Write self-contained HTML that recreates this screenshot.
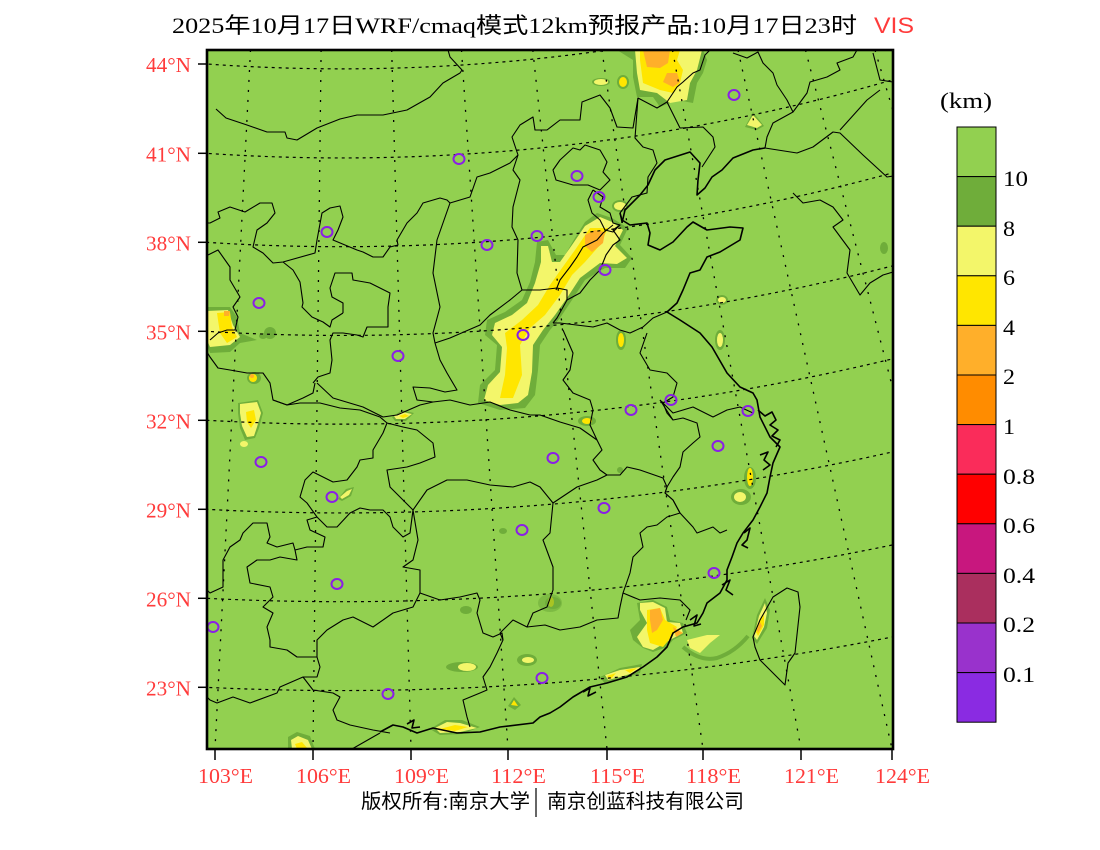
<!DOCTYPE html>
<html><head><meta charset="utf-8"><style>html,body{margin:0;padding:0;background:#fff}svg{display:block}</style></head>
<body>
<svg width="1100" height="850" viewBox="0 0 1100 850" xmlns="http://www.w3.org/2000/svg">
<defs><clipPath id="m"><rect x="207" y="50" width="686" height="699"/></clipPath></defs>
<rect width="1100" height="850" fill="#fff"/>
<g clip-path="url(#m)">
<rect x="207" y="50" width="686" height="699" fill="#92D050"/>
<!-- blobs -->
<g>
<polygon fill="#6FAD3A" points="597,213 612,218 628,228 620,245 632,258 625,268 605,268 585,280 572,300 560,318 550,330 540,345 538,370 535,395 525,408 500,410 478,403 480,385 495,370 497,345 485,335 487,320 505,312 522,300 530,282 535,262 537,242 548,240 556,255 565,255 575,238 585,222"/>
<polygon fill="#F3F66A" points="600,217 612,222 623,230 615,246 627,258 617,264 600,263 580,278 567,298 555,315 543,330 533,345 532,372 528,395 518,403 500,405 484,400 488,385 500,372 502,347 492,335 495,323 512,315 527,303 535,283 541,262 541,246 548,246 552,262 560,262 572,245 585,226"/>
<polygon fill="#FFE600" points="590,228 608,228 600,245 585,262 572,275 560,295 545,315 530,328 520,345 522,375 513,398 500,398 505,375 507,348 505,333 522,320 538,305 550,285 562,268 575,250"/>
<polygon fill="#F3F66A" points="543,250 549,250 552,268 545,275"/>
<polygon fill="#FFAF2A" points="585,235 595,230 605,232 603,243 592,252 585,246"/>

<polygon fill="#6FAD3A" points="617,50 633,60 633,77 637,97 653,97 660,107 677,100 693,103 697,83 703,73 707,60 703,50"/>
<polygon fill="#F3F66A" points="635,50 637,73 640,90 657,93 670,103 687,100 690,83 697,70 702,50"/>
<polygon fill="#FFE600" points="640,50 640,60 643,83 660,90 673,93 680,83 683,70 677,60 680,50"/>
<polygon fill="#FFAF2A" points="643,50 670,50 668,63 660,68 647,67"/>
<polygon fill="#FFAF2A" points="667,73 677,73 680,82 673,87 663,82"/>
<ellipse cx="623" cy="82" rx="6" ry="7" fill="#6FAD3A"/><ellipse cx="623" cy="82" rx="4" ry="5" fill="#FFE600"/>
<ellipse cx="601" cy="82" rx="9" ry="4" fill="#6FAD3A"/><ellipse cx="601" cy="82" rx="7" ry="3" fill="#F3F66A"/>

<polygon fill="#6FAD3A" points="637,603 653,600 667,607 670,620 683,623 687,633 673,640 667,647 653,652 643,648 633,640 630,630 640,620"/>
<polygon fill="#F3F66A" points="640,603 653,602 665,608 667,622 680,623 683,633 670,640 653,650 643,647 637,637 647,623 640,610"/>
<polygon fill="#FFE600" points="647,610 660,608 665,620 677,627 673,635 663,647 650,643 647,630"/>
<polygon fill="#FFAF2A" points="650,610 660,608 663,620 657,630 652,633 650,620"/>
<polygon fill="#FFAF2A" points="673,627 683,633 676,637"/>
<path d="M683,647 Q700,662 717,658 Q735,652 748,636" stroke="#6FAD3A" stroke-width="4" fill="none"/>
<polygon fill="#F3F66A" points="687,640 707,635 720,635 710,643 700,653 690,648"/>
<polygon fill="#6FAD3A" points="752,638 757,615 765,598 770,610 767,628 757,644"/>
<polygon fill="#F3F66A" points="754,636 759,616 765,603 767,613 764,627 757,640"/>
<polygon fill="#FFE600" points="756,632 760,620 764,615 764,625 758,636"/>
<polygon fill="#FFAF2A" points="757,630 760,622 762,626 758,633"/>
<polygon fill="#6FAD3A" points="600,677 620,668 642,664 640,673 620,680 605,684"/>
<polygon fill="#F3F66A" points="605,675 620,670 640,667 637,672 620,677 608,680"/>
<polygon fill="#FFE600" points="607,676 616,673 611,679"/>
<polygon fill="#FFE600" points="625,670 637,668 630,673"/>

<polygon fill="#6FAD3A" points="207,307 230,307 237,317 240,333 257,340 240,343 230,352 210,353 207,345"/>
<polygon fill="#F3F66A" points="207,311 228,310 233,325 240,337 230,345 210,347 207,340"/>
<polygon fill="#FFE600" points="217,313 230,312 232,327 237,337 227,343 220,333 218,320"/>
<polygon fill="#FFAF2A" points="224,311 230,311 229,316 224,316"/>
<polygon fill="#6FAD3A" points="238,403 258,400 263,413 259,428 255,438 245,440 240,428 238,413"/>
<polygon fill="#F3F66A" points="240,404 257,402 261,413 257,427 254,436 247,437 242,426 240,413"/>
<polygon fill="#FFE600" points="246,412 254,410 256,420 251,428 247,422"/>
<ellipse cx="244" cy="444" rx="4" ry="3" fill="#F3F66A"/>
<ellipse cx="254" cy="378" rx="7" ry="6" fill="#6FAD3A"/><ellipse cx="253" cy="378" rx="4" ry="4" fill="#FFE600"/><ellipse cx="252" cy="376" rx="2" ry="2" fill="#FFAF2A"/>
<polygon fill="#6FAD3A" points="338,499 346,489 354,487 351,496 342,501"/>
<polygon fill="#F3F66A" points="340,497 347,491 352,489 349,495 342,499"/>
<polygon fill="#6FAD3A" points="392,417 402,410 414,413 406,421 395,421"/>
<polygon fill="#F3F66A" points="394,416 402,412 412,414 405,419 396,419"/>
<polygon fill="#FFE600" points="399,416 405,414 409,416 403,418"/>
<polygon fill="#6FAD3A" points="288,737 297,732 310,736 315,749 288,749"/>
<polygon fill="#F3F66A" points="291,740 298,736 308,740 312,749 292,749"/>
<polygon fill="#FFE600" points="295,744 302,742 308,749 297,749"/>
<polygon fill="#6FAD3A" points="430,729 445,720 462,720 480,727 462,734 440,735"/>
<polygon fill="#F3F66A" points="435,728 447,722 460,723 477,728 460,732 440,733"/>
<polygon fill="#FFE600" points="440,729 455,725 468,727 455,731"/>
<polygon fill="#6FAD3A" points="508,706 514,697 521,705 515,710"/>
<polygon fill="#FFE600" points="511,705 514,700 518,706"/>
<ellipse cx="462" cy="667" rx="16" ry="5" fill="#6FAD3A"/><ellipse cx="467" cy="667" rx="9" ry="4" fill="#F3F66A"/>
<ellipse cx="527" cy="660" rx="10" ry="6" fill="#6FAD3A"/><ellipse cx="528" cy="660" rx="6" ry="3" fill="#F3F66A"/>
<ellipse cx="553" cy="603" rx="8" ry="6" fill="#6FAD3A"/><ellipse cx="551" cy="602" rx="3" ry="5" fill="#FFE600"/>
<ellipse cx="741" cy="497" rx="10" ry="8" fill="#6FAD3A"/><ellipse cx="740" cy="497" rx="6" ry="5" fill="#F3F66A"/>
<ellipse cx="750" cy="478" rx="6" ry="11" fill="#6FAD3A"/><ellipse cx="750" cy="477" rx="3" ry="9" fill="#FFE600"/>
<ellipse cx="587" cy="421" rx="9" ry="5" fill="#6FAD3A"/><ellipse cx="587" cy="421" rx="5" ry="3" fill="#FFE600"/>
<ellipse cx="621" cy="340" rx="5" ry="10" fill="#6FAD3A"/><ellipse cx="621" cy="340" rx="3" ry="7" fill="#FFE600"/>
<ellipse cx="720" cy="340" rx="5" ry="10" fill="#6FAD3A"/><ellipse cx="720" cy="340" rx="3" ry="7" fill="#F3F66A"/>
<ellipse cx="722" cy="300" rx="6" ry="5" fill="#6FAD3A"/><ellipse cx="722" cy="300" rx="4" ry="3" fill="#F3F66A"/>
<polygon fill="#6FAD3A" points="745,127 753,112 764,126 757,130"/>
<polygon fill="#F3F66A" points="747,125 753,115 762,125 757,128"/>
<ellipse cx="620" cy="206" rx="8" ry="6" fill="#6FAD3A"/><ellipse cx="620" cy="206" rx="6" ry="4" fill="#F3F66A"/>
<ellipse cx="884" cy="248" rx="4" ry="6" fill="#6FAD3A"/>
<ellipse cx="503" cy="531" rx="4" ry="3" fill="#6FAD3A"/>
<ellipse cx="466" cy="610" rx="6" ry="4" fill="#6FAD3A"/>
<ellipse cx="270" cy="333" rx="6" ry="6" fill="#6FAD3A"/>
<ellipse cx="550" cy="603" rx="12" ry="9" fill="#6FAD3A" opacity="0.6"/>
<ellipse cx="263" cy="336" rx="4" ry="3" fill="#6FAD3A"/>
<ellipse cx="620" cy="470" rx="3" ry="3" fill="#6FAD3A"/>
</g>
<!-- graticule -->
<g fill="none" stroke="#000" stroke-width="1.2" stroke-dasharray="3 4">
<circle cx="342" cy="-1813.45" r="1882.3"/>
<circle cx="342" cy="-1822.45" r="1980.4"/>
<circle cx="342" cy="-1843.4" r="2090.1"/>
<circle cx="342" cy="-1878.05" r="2213.5"/>
<circle cx="342" cy="-1929.05" r="2353.2"/>
<circle cx="342" cy="-1999.95" r="2512.9"/>
<circle cx="342" cy="-2095.1" r="2696.8"/>
<circle cx="342" cy="-2163.65" r="2854.2"/>
</g>
<g fill="none" stroke="#000" stroke-width="1.3" stroke-dasharray="2 8">
<line x1="250.5" y1="50" x2="215" y2="749"/>
<line x1="321.1" y1="50" x2="313" y2="749"/>
<line x1="391.7" y1="50" x2="411" y2="749"/>
<line x1="461.5" y1="50" x2="508" y2="749"/>
<line x1="532.8" y1="50" x2="607" y2="749"/>
<line x1="601.9" y1="50" x2="703" y2="749"/>
<line x1="672.5" y1="50" x2="801" y2="749"/>
<line x1="738" y1="50" x2="892" y2="749"/>
<line x1="805.5" y1="50" x2="985.7" y2="749"/>
<line x1="875" y1="50" x2="1082" y2="749"/>
</g>
<!-- borders -->
<g fill="none" stroke="#000" stroke-width="1.1" stroke-linejoin="round">
<polyline points="216,109 226,118 247,125 267,132 285,132 287,138 297,140 317,128 340,119 357,115 383,115 407,110 430,97 443,83 460,73 462,70 450,57 448,50"/>
<polyline points="207,223 210,223 220,218 218,212 230,207 245,212 260,203 272,203 275,213 267,223 257,230 253,247 263,253 273,263 283,262 315,253 317,240 322,213 330,208 340,206 343,217 338,230 333,240 357,250 363,252 373,257 383,257 390,247 398,245 397,240 407,223 417,213 423,203 440,198 447,200 450,203 470,197 477,177 490,173 510,163 518,155 512,137 520,125 533,117 535,130 547,130 560,120 580,120 582,102 600,95 610,108 617,127 633,128 638,98 657,108 667,102 677,87 683,82 693,73 700,70 705,55 710,50"/>
<polyline points="560,160 573,148 580,150 585,145 600,150 607,162 603,172 610,180 600,190 588,185 573,185 556,180 553,170 560,160"/>
<polyline points="593,190 603,197 600,207 610,213 613,223 620,225 613,232 605,230 600,220 592,213 588,200 593,190"/>
<polyline points="518,155 513,170 520,180 513,207 512,227 518,240 517,273 522,290"/>
<polyline points="522,290 510,300 490,315 480,325 450,338 435,343"/>
<polyline points="450,203 437,240 433,273 440,307 433,333 435,343 440,360 447,373 457,390 445,392 430,388 413,387 417,400 433,402"/>
<polyline points="433,402 420,405 397,415 383,417 363,407 333,398 317,383"/>
<polyline points="343,313 343,303 332,297 330,288 335,273 352,273 353,280 370,283 390,293 388,307 388,327 367,327 363,337 357,335 343,333 333,333 330,340 332,360 330,373 318,377 313,383"/>
<polyline points="283,262 293,270 300,282 303,303 302,307 312,317 323,322 330,327 332,320 343,313"/>
<polyline points="208,255 218,250 230,267 230,280 240,297 233,307 238,317 235,330 227,330 218,333 210,340"/>
<polyline points="207,352 210,357 218,368 230,370 247,373 263,373 270,383 273,400 287,405 303,398 313,393 315,383"/>
<polyline points="273,400 287,405 300,403 320,403 340,408 360,410 380,417 387,423 383,433 373,450 373,458 360,460 357,467 347,480 333,482 313,472 305,480 300,497 307,503 317,517 327,527 337,527 350,513 360,508 370,510 383,510 390,517 393,527 403,537 410,533 413,510"/>
<polyline points="387,423 403,427 417,430 433,443 435,457 420,463 407,467 387,470 390,487 400,497 410,507 413,510"/>
<polyline points="413,510 427,490 447,480 467,480 490,485 513,487 530,482 540,487 553,503"/>
<polyline points="433,402 450,400 470,405 490,402 510,410 530,415 540,415 560,422 580,428 597,440 602,450 593,460 600,470 607,475 620,475 627,467 640,470 663,478 667,487 665,493 673,500 680,513"/>
<polyline points="553,503 577,487 597,480 607,475"/>
<polyline points="553,503 550,533 543,540 553,567 553,590 547,607 533,613 527,627 513,620 500,633"/>
<polyline points="527,627 545,625 560,630 580,627 597,620 618,618 620,607 623,593 630,573 633,557 643,547 640,533 647,527 657,525 667,517 680,513"/>
<polyline points="623,593 640,600 660,598 680,600 690,610 686,620"/>
<polyline points="680,513 693,527 697,533 713,527 720,533 727,530"/>
<polyline points="680,513 673,500 665,493 667,487 673,477 680,467 683,452 693,443 700,437 697,423 683,418 673,420 660,400"/>
<polyline points="660,400 673,413 693,407 713,417 727,410 740,407 753,413"/>
<polyline points="647,333 640,353 650,370 667,373 677,383 673,397 663,403 667,413 673,420"/>
<polyline points="563,330 573,353 570,370 563,380 573,393 590,400 593,410 590,425 597,440"/>
<polyline points="553,323 560,323 593,327 607,323 620,330 630,333 643,327 653,318 667,312"/>
<polyline points="522,290 540,290 557,288 567,290 567,300 557,318 553,323"/>
<polyline points="567,300 580,293 590,280 600,270 606,255 613,245 620,240 613,230 620,225"/>
<polyline points="556,290 560,280 570,267 577,257 583,247 597,240 603,233 613,225"/>
<polyline points="638,98 635,138 643,147 653,150 657,163 648,177 647,193 632,197 620,213 622,223"/>
<polyline points="667,102 680,128 703,127 713,137 715,147 702,167"/>
<polyline points="733,53 747,58 758,52 763,63 773,73 777,85 787,100 793,112 773,123 767,137 765,148"/>
<polyline points="793,112 807,93 810,82 827,77 840,70 837,63 853,57 857,50"/>
<polyline points="765,148 797,153 813,147 833,132 840,133 863,155 887,177 893,176"/>
<polyline points="873,53 880,80 893,82"/>
<polyline points="880,90 867,100 840,130"/>
<polyline points="793,193 803,203 820,200 833,207 843,220 833,227 850,250 847,273 860,295 870,283 883,275 893,272"/>
<polyline points="303,677 313,690 333,693 340,697 333,710 337,720 350,725 373,730 390,733"/>
<polyline points="207,697 210,700 217,703 233,697 250,703 277,693 280,687 303,677 317,677 320,667 317,657 297,657 287,650 270,647 270,640 267,627 273,613 263,607 273,597 270,587 250,583 247,567 257,560 270,560 280,557 297,560 295,550 307,547 323,547 325,537 310,530 307,520 317,517"/>
<polyline points="317,657 317,640 327,630 343,620 353,617 373,627 393,613 413,607 420,593 420,570 403,567 413,560 418,540 413,510"/>
<polyline points="207,590 210,593 223,587 223,560 230,547 240,540 243,533 253,523 267,523 270,537 267,543 277,547 293,543 295,550"/>
<polyline points="420,593 440,600 460,597 477,593 480,600 477,613 483,633 493,637 502,633 503,640 497,653 490,667 483,677 487,690 480,693 463,700 467,717 470,727"/>
<polyline points="500,633 503,640"/>
<polyline points="352,749 380,733"/>
<polygon points="753,637 760,620 773,597 787,588 798,592 800,607 795,653 788,663 785,685 773,673 760,660 755,647"/>
</g>
<g fill="none" stroke="#000" stroke-width="1.6" stroke-linejoin="round">
<polyline points="620,213 622,220 630,225 647,223 650,233 648,245 660,250 673,242 687,227 693,222 707,230 730,227 743,228 740,240 720,252 707,257 700,270 690,273 683,290 677,303 667,312 680,320 700,333 712,347 727,373 740,387 753,393 757,400 760,417 770,437 780,447 773,463 770,477 767,493 760,507 753,520 743,533 737,543 732,557 727,570 727,580 720,593 707,603 703,613 697,623 683,627 673,633 667,647 657,657 643,667 627,677 607,683 590,687 573,697 560,707 550,713 540,717 533,723 500,727 480,732 457,733 433,728 417,733 403,727 393,725 380,732"/>
<polyline points="622,223 625,210 640,195 648,185 655,170 665,160 690,152 700,163 698,180 697,195 705,188 712,177 722,170 733,158 753,150 765,148"/>
<polyline points="758,410 765,416 772,412 776,420 770,425 778,430 772,436 780,440 776,447"/>
<polyline points="760,455 768,452 764,460 770,465 763,470"/>
<polyline points="744,533 750,528 747,540 742,545 748,548"/>
<polyline points="722,585 730,580 726,590 733,595"/>
<polyline points="690,620 697,615 694,626 701,624"/>
<polyline points="583,692 590,688 588,696 596,692"/>
<polyline points="407,724 414,720 412,728 420,727"/>
</g>
<!-- stations -->
<g fill="none" stroke="#8A1FE6" stroke-width="2">
<ellipse cx="734" cy="95" rx="5.5" ry="5"/>
<ellipse cx="459" cy="159" rx="5.5" ry="5"/>
<ellipse cx="577" cy="176" rx="5.5" ry="5"/>
<ellipse cx="599" cy="197" rx="5.5" ry="5"/>
<ellipse cx="327" cy="232" rx="5.5" ry="5"/>
<ellipse cx="487" cy="245" rx="5.5" ry="5"/>
<ellipse cx="537" cy="236" rx="5.5" ry="5"/>
<ellipse cx="605" cy="270" rx="5.5" ry="5"/>
<ellipse cx="259" cy="303" rx="5.5" ry="5"/>
<ellipse cx="523" cy="335" rx="5.5" ry="5"/>
<ellipse cx="398" cy="356" rx="5.5" ry="5"/>
<ellipse cx="671" cy="400" rx="5.5" ry="5"/>
<ellipse cx="631" cy="410" rx="5.5" ry="5"/>
<ellipse cx="748" cy="411" rx="5.5" ry="5"/>
<ellipse cx="718" cy="446" rx="5.5" ry="5"/>
<ellipse cx="553" cy="458" rx="5.5" ry="5"/>
<ellipse cx="261" cy="462" rx="5.5" ry="5"/>
<ellipse cx="332" cy="497" rx="5.5" ry="5"/>
<ellipse cx="604" cy="508" rx="5.5" ry="5"/>
<ellipse cx="522" cy="530" rx="5.5" ry="5"/>
<ellipse cx="714" cy="573" rx="5.5" ry="5"/>
<ellipse cx="337" cy="584" rx="5.5" ry="5"/>
<ellipse cx="213" cy="627" rx="5.5" ry="5"/>
<ellipse cx="542" cy="678" rx="5.5" ry="5"/>
<ellipse cx="388" cy="694" rx="5.5" ry="5"/>
</g>
</g>
<!-- frame -->
<rect x="207" y="50" width="686" height="699" fill="none" stroke="#000" stroke-width="2.6"/>
<!-- ticks -->
<g stroke="#000" stroke-width="1.5">
<line x1="198" y1="64" x2="207" y2="64"/>
<line x1="198" y1="153.3" x2="207" y2="153.3"/>
<line x1="198" y1="242.3" x2="207" y2="242.3"/>
<line x1="198" y1="331.3" x2="207" y2="331.3"/>
<line x1="198" y1="420.3" x2="207" y2="420.3"/>
<line x1="198" y1="509.3" x2="207" y2="509.3"/>
<line x1="198" y1="598.3" x2="207" y2="598.3"/>
<line x1="198" y1="687.3" x2="207" y2="687.3"/>
<line x1="215" y1="749" x2="215" y2="760"/>
<line x1="313" y1="749" x2="313" y2="760"/>
<line x1="411" y1="749" x2="411" y2="760"/>
<line x1="508" y1="749" x2="508" y2="760"/>
<line x1="607" y1="749" x2="607" y2="760"/>
<line x1="703" y1="749" x2="703" y2="760"/>
<line x1="801" y1="749" x2="801" y2="760"/>
<line x1="892" y1="749" x2="892" y2="760"/>
</g>
<g font-family="'Liberation Serif', serif" font-size="21" fill="#FF3B3B">
<text x="146" y="72" textLength="45" lengthAdjust="spacingAndGlyphs">44°N</text>
<text x="146" y="161.3" textLength="45" lengthAdjust="spacingAndGlyphs">41°N</text>
<text x="146" y="250.3" textLength="45" lengthAdjust="spacingAndGlyphs">38°N</text>
<text x="146" y="339.3" textLength="45" lengthAdjust="spacingAndGlyphs">35°N</text>
<text x="146" y="428.3" textLength="45" lengthAdjust="spacingAndGlyphs">32°N</text>
<text x="146" y="517.3" textLength="45" lengthAdjust="spacingAndGlyphs">29°N</text>
<text x="146" y="606.3" textLength="45" lengthAdjust="spacingAndGlyphs">26°N</text>
<text x="146" y="695.3" textLength="45" lengthAdjust="spacingAndGlyphs">23°N</text>
<text x="198" y="783" textLength="55" lengthAdjust="spacingAndGlyphs">103°E</text>
<text x="296" y="783" textLength="55" lengthAdjust="spacingAndGlyphs">106°E</text>
<text x="394" y="783" textLength="55" lengthAdjust="spacingAndGlyphs">109°E</text>
<text x="491" y="783" textLength="55" lengthAdjust="spacingAndGlyphs">112°E</text>
<text x="590" y="783" textLength="55" lengthAdjust="spacingAndGlyphs">115°E</text>
<text x="686" y="783" textLength="55" lengthAdjust="spacingAndGlyphs">118°E</text>
<text x="784" y="783" textLength="55" lengthAdjust="spacingAndGlyphs">121°E</text>
<text x="875" y="783" textLength="55" lengthAdjust="spacingAndGlyphs">124°E</text>
</g>
<!-- title -->
<text x="172" y="33" font-family="'Liberation Serif','Noto Sans CJK SC',serif" font-size="22" fill="#000" textLength="685" lengthAdjust="spacingAndGlyphs">2025年10月17日WRF/cmaq模式12km预报产品:10月17日23时</text>
<text x="874" y="33" font-family="'Liberation Sans',sans-serif" font-size="22" fill="#FF3B3B" textLength="40" lengthAdjust="spacingAndGlyphs">VIS</text>
<!-- footer -->
<text x="361" y="808" font-family="'Liberation Serif','Noto Sans CJK SC',serif" font-size="20" fill="#000" textLength="169" lengthAdjust="spacingAndGlyphs">版权所有:南京大学</text>
<line x1="536" y1="788" x2="536" y2="817" stroke="#000" stroke-width="1.2"/>
<text x="547" y="808" font-family="'Noto Sans CJK SC',sans-serif" font-size="20" fill="#000" textLength="197" lengthAdjust="spacingAndGlyphs">南京创蓝科技有限公司</text>
<!-- colorbar -->
<g stroke="#000" stroke-width="1">
<rect x="957" y="127" width="39" height="49.6" fill="#92D050"/>
<rect x="957" y="176.6" width="39" height="49.6" fill="#6FAD3A"/>
<rect x="957" y="226.2" width="39" height="49.6" fill="#F3F66A"/>
<rect x="957" y="275.8" width="39" height="49.6" fill="#FFE600"/>
<rect x="957" y="325.4" width="39" height="49.6" fill="#FFAF2A"/>
<rect x="957" y="375" width="39" height="49.6" fill="#FF8C00"/>
<rect x="957" y="424.6" width="39" height="49.6" fill="#FA2C5A"/>
<rect x="957" y="474.2" width="39" height="49.6" fill="#FF0000"/>
<rect x="957" y="523.8" width="39" height="49.6" fill="#C8177E"/>
<rect x="957" y="573.4" width="39" height="49.6" fill="#AA2F5E"/>
<rect x="957" y="623" width="39" height="49.6" fill="#9932CC"/>
<rect x="957" y="672.6" width="39" height="49.6" fill="#8A2BE2"/>
</g>
<g font-family="'Liberation Serif', serif" font-size="22" fill="#000">
<text x="940" y="108" textLength="52" lengthAdjust="spacingAndGlyphs">(km)</text>
<text x="1003" y="186" textLength="25" lengthAdjust="spacingAndGlyphs">10</text>
<text x="1003" y="236" textLength="12" lengthAdjust="spacingAndGlyphs">8</text>
<text x="1003" y="285" textLength="12" lengthAdjust="spacingAndGlyphs">6</text>
<text x="1003" y="335" textLength="12" lengthAdjust="spacingAndGlyphs">4</text>
<text x="1003" y="384" textLength="12" lengthAdjust="spacingAndGlyphs">2</text>
<text x="1003" y="434" textLength="12" lengthAdjust="spacingAndGlyphs">1</text>
<text x="1003" y="484" textLength="32" lengthAdjust="spacingAndGlyphs">0.8</text>
<text x="1003" y="533" textLength="32" lengthAdjust="spacingAndGlyphs">0.6</text>
<text x="1003" y="583" textLength="32" lengthAdjust="spacingAndGlyphs">0.4</text>
<text x="1003" y="632" textLength="32" lengthAdjust="spacingAndGlyphs">0.2</text>
<text x="1003" y="682" textLength="32" lengthAdjust="spacingAndGlyphs">0.1</text>
</g>
</svg>
</body></html>
